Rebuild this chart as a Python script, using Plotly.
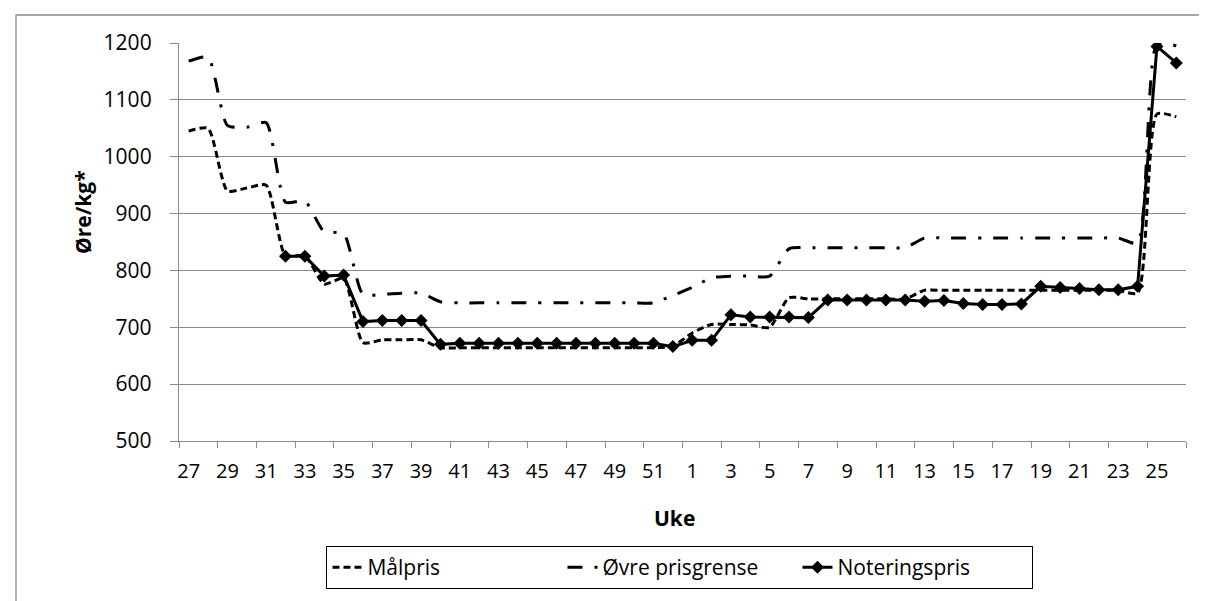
import plotly.graph_objects as go

# Week labels (season from week 27 to week 26 the next year)
weeks = ["27", "28", "29", "30", "31", "32", "33", "34", "35", "36", "37", "38", "39",
         "40", "41", "42", "43", "44", "45", "46", "47", "48", "49", "50", "51", "52",
         "1", "2", "3", "4", "5", "6", "7", "8", "9", "10", "11", "12", "13",
         "14", "15", "16", "17", "18", "19", "20", "21", "22", "23", "24", "25", "26"]

maalpris = [1045, 1050, 940, 945, 950, 826, 826, 776, 786, 673, 678, 678, 678,
            664, 664, 664, 664, 664, 664, 664, 664, 664, 664, 664, 664, 667,
            690, 705, 705, 704, 700, 752, 750, 750, 750, 750, 750, 750, 765,
            765, 765, 765, 765, 765, 765, 765, 765, 765, 765, 760, 1075, 1070]

ovre_prisgrense = [1168, 1175, 1055, 1052, 1060, 920, 922, 868, 865, 758, 758, 760, 760,
                   745, 743, 743, 743, 743, 743, 743, 743, 743, 743, 743, 743, 756,
                   770, 787, 790, 790, 790, 838, 840, 840, 840, 840, 840, 840, 857,
                   857, 857, 857, 857, 857, 857, 857, 857, 857, 857, 848, 1198, 1195]

noteringspris = [None, None, None, None, None, 825, 825, 790, 792, 710, 712, 712, 712,
                 670, 672, 672, 672, 672, 672, 672, 672, 672, 672, 672, 672, 666,
                 677, 677, 722, 718, 718, 718, 717, 748, 748, 748, 748, 748, 746,
                 747, 742, 740, 740, 741, 772, 770, 768, 766, 766, 772, 1194, 1165]

FONT = "Open Sans"
GRID = "#8a8a8a"

W, H = 1207, 601
L, R, T, B = 171, 29, 35, 168
pw, ph = W - L - R, H - T - B


def px_x(p):
    return (p - L) / pw


def px_y(p):
    return (H - B - p) / ph


fig = go.Figure()
fig.add_trace(go.Scatter(
    x=weeks, y=maalpris, name="Målpris", mode="lines",
    line=dict(color="black", width=3, dash="7px,4px", shape="spline", smoothing=0.6),
))
fig.add_trace(go.Scatter(
    x=weeks, y=ovre_prisgrense, name="Øvre prisgrense", mode="lines",
    line=dict(color="black", width=3, dash="15px,12px,3px,12px", shape="spline", smoothing=0.6),
))
fig.add_trace(go.Scatter(
    x=weeks, y=noteringspris, name="Noteringspris", mode="lines+markers",
    line=dict(color="black", width=3),
    marker=dict(symbol="diamond", size=10, color="black"),
))

fig.update_layout(
    width=W, height=H,
    margin=dict(l=L, r=R, t=T, b=B),
    paper_bgcolor="white", plot_bgcolor="white",
    font=dict(family=FONT, size=21, color="black"),
    showlegend=True,
    legend=dict(
        orientation="h", x=0.4975, xanchor="center", y=px_y(538), yanchor="top",
        bordercolor="black", borderwidth=1, bgcolor="white",
        font=dict(family=FONT, size=21, color="black"),
        entrywidth=190, entrywidthmode="pixels",
    ),
    xaxis=dict(
        type="category", range=[-0.5, 51.5],
        tickmode="linear", tick0=0, dtick=2, tickson="boundaries",
        ticks="outside", ticklen=6, tickcolor=GRID, tickwidth=1.3,
        showline=True, linecolor=GRID, linewidth=1.3, tickangle=0,
        showgrid=False, ticklabelstandoff=12,
        tickfont=dict(family=FONT, size=20, color="black"),
    ),
    yaxis=dict(
        range=[500, 1200], dtick=100, tick0=500,
        ticks="outside", ticklen=8, tickcolor=GRID, tickwidth=1.3,
        showline=True, linecolor=GRID, linewidth=1.3,
        showgrid=True, gridcolor=GRID, gridwidth=1.3, zeroline=False,
        ticklabelstandoff=14,
        tickfont=dict(family=FONT, size=21, color="black"),
    ),
    annotations=[
        dict(text="<b>Uke</b>", x=px_x(666), y=px_y(510), xref="paper", yref="paper",
             showarrow=False, xanchor="center", yanchor="middle",
             font=dict(family=FONT, size=21, color="black")),
        dict(text="<b>Øre/kg*</b>", x=px_x(75), y=px_y(204), xref="paper", yref="paper",
             showarrow=False, xanchor="center", yanchor="middle", textangle=-90,
             font=dict(family=FONT, size=21, color="black")),
    ],
    shapes=[
        dict(type="rect", xref="paper", yref="paper",
             x0=px_x(8), x1=px_x(1199), y0=px_y(597), y1=px_y(7),
             line=dict(color="#8a8a8a", width=1.3), layer="below"),
    ],
)

fig.write_html("out.html")
